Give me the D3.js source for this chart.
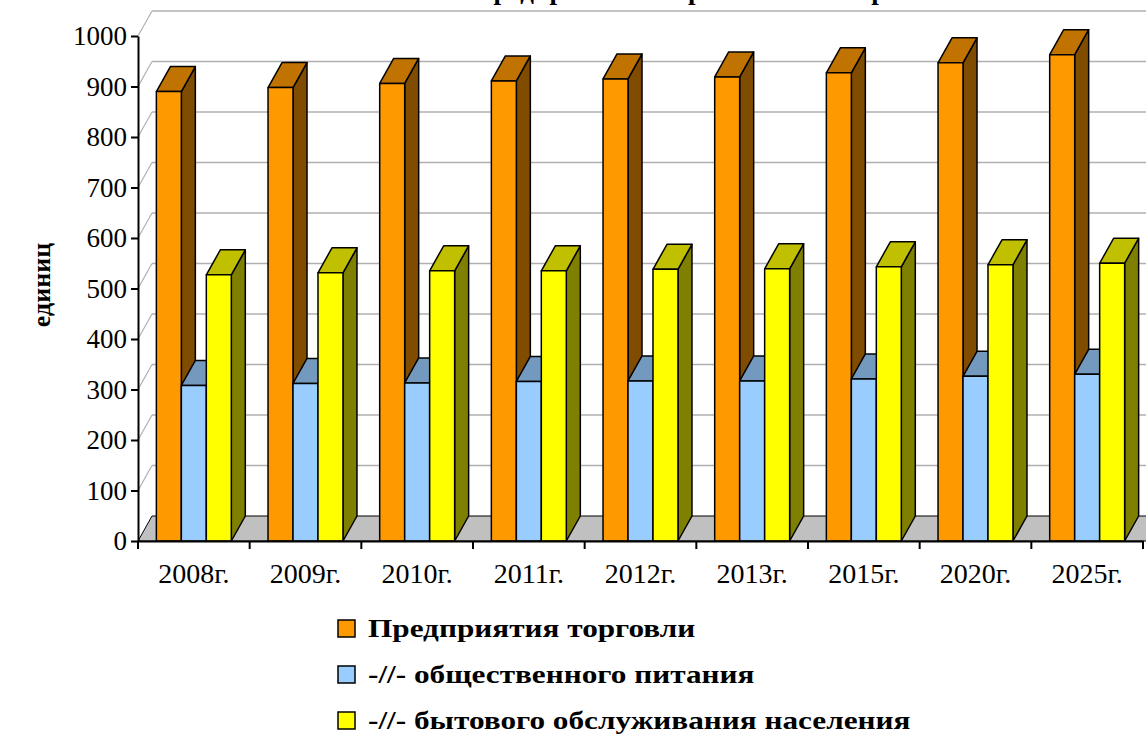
<!DOCTYPE html>
<html>
<head>
<meta charset="utf-8">
<script src="https://cdn.jsdelivr.net/npm/d3@7"></script>
<style>
  body { margin: 0; background: #fff; }
  svg { display: block; }
  svg text { font-family: "Liberation Serif", "Times New Roman", serif; }
</style>
</head>
<body>
<svg id="chart" width="1146" height="736"></svg>
<script>
// data
const years = ["2008г.", "2009г.", "2010г.", "2011г.", "2012г.", "2013г.", "2015г.", "2020г.", "2025г."];
const trade = [890, 898, 906, 911, 915, 919, 927, 947, 963];
const catering = [308, 312, 313, 316, 317, 317, 321, 326, 330];
const services = [527, 531, 535, 535, 538, 539, 543, 547, 550];
const seriesNames = ["Предприятия торговли", "-//- общественного питания", "-//- бытового обслуживания населения"];
const yTicks = [0, 100, 200, 300, 400, 500, 600, 700, 800, 900, 1000];

const colors = [
  { front: "#FF9900", top: "#C07300", side: "#804D00" },
  { front: "#99CCFF", top: "#7399BF", side: "#4D6680" },
  { front: "#FFFF00", top: "#C0C000", side: "#808000" }
];

const series = [trade, catering, services];

const svg = d3.select("#chart");

// plot frame (front plane), depth offset for the 3d look
const plotL = 138, plotR = 1143, plotT = 36, plotB = 541;
const dx = 14, dy = -25;

const x = d3.scaleBand().domain(years).range([plotL, plotR]);
const xs = d3.scaleBand().domain(d3.range(3)).range([0, x.bandwidth()])
  .paddingInner(0).paddingOuter(0.735);
const y = d3.scaleLinear().domain([0, 1000]).range([plotB, plotT]);

// back wall gridlines + left wall diagonals
const grid = svg.append("g");
grid.selectAll("line.h").data(yTicks.slice(1)).enter().append("line")
  .attr("class", "h")
  .attr("x1", plotL + dx).attr("x2", plotR + dx + 20)
  .attr("y1", d => y(d) + dy).attr("y2", d => y(d) + dy)
  .attr("stroke", "#b0b0b0").attr("stroke-width", 1.5);
grid.selectAll("line.d").data(yTicks.slice(1)).enter().append("line")
  .attr("class", "d")
  .attr("x1", plotL).attr("x2", plotL + dx)
  .attr("y1", d => y(d)).attr("y2", d => y(d) + dy)
  .attr("stroke", "#b0b0b0").attr("stroke-width", 1.2);

// floor
svg.append("path")
  .attr("d", `M${plotL},${plotB}L${plotL + dx},${plotB + dy}L${plotR + dx + 20},${plotB + dy}L${plotR + 20},${plotB}Z`)
  .attr("fill", "#C0C0C0").attr("stroke", "#000").attr("stroke-width", 1);

// bars, left to right so the painter order is right
const bars = svg.append("g").attr("stroke", "#000").attr("stroke-width", 1.5).attr("stroke-linejoin", "round");
years.forEach((yr, i) => {
  series.forEach((vals, s) => {
    const x0 = x(yr) + xs(s), x1 = x0 + xs.bandwidth();
    const y0 = y(0), y1 = y(vals[i]);
    const g = bars.append("g");
    g.append("path")
      .attr("d", `M${x1},${y0}L${x1 + dx},${y0 + dy}L${x1 + dx},${y1 + dy}L${x1},${y1}Z`)
      .attr("fill", colors[s].side);
    g.append("path")
      .attr("d", `M${x0},${y1}L${x0 + dx},${y1 + dy}L${x1 + dx},${y1 + dy}L${x1},${y1}Z`)
      .attr("fill", colors[s].top);
    g.append("rect")
      .attr("x", x0).attr("y", y1).attr("width", x1 - x0).attr("height", y0 - y1)
      .attr("fill", colors[s].front);
  });
});

// y axis
const yAxis = svg.append("g")
  .attr("transform", `translate(${plotL},0)`)
  .call(d3.axisLeft(y).tickValues(yTicks).tickFormat(d3.format("d"))
    .tickSize(7).tickSizeOuter(0).tickPadding(4));
yAxis.attr("font-family", null);
yAxis.select(".domain").attr("stroke-width", 2);
yAxis.selectAll(".tick line").attr("stroke-width", 2);
yAxis.selectAll("text").attr("font-size", 27).attr("fill", "#000");

// x axis: labels centred, ticks on category boundaries
const xAxis = svg.append("g")
  .attr("transform", `translate(0,${plotB})`)
  .call(d3.axisBottom(x).tickSize(0).tickPadding(22).tickSizeOuter(0));
xAxis.attr("font-family", null);
xAxis.select(".domain").attr("stroke-width", 2);
xAxis.selectAll("text").attr("font-size", 28).attr("fill", "#000");
xAxis.selectAll("line.b").data(years.map(d => x(d)).concat([plotR])).enter().append("line")
  .attr("class", "b").attr("x1", d => d).attr("x2", d => d).attr("y1", 0).attr("y2", 8)
  .attr("stroke", "#000").attr("stroke-width", 2);

// axis title
svg.append("text")
  .attr("transform", "translate(50,285) rotate(-90)")
  .attr("text-anchor", "middle")
  .attr("font-size", 26).attr("font-weight", "bold")
  .text("единиц");

// chart title, cut off at the top edge like the original
svg.append("text")
  .attr("x", 640).attr("y", -1)
  .attr("text-anchor", "middle")
  .attr("font-size", 27).attr("font-weight", "bold")
  .text("Количество предприятий потребительского рынка");

// legend (text a bit wider than the font, as in the original)
const legend = svg.append("g").attr("transform", "translate(338,620)");
seriesNames.forEach((name, s) => {
  const row = legend.append("g").attr("transform", `translate(0,${s * 46})`);
  row.append("rect").attr("width", 17).attr("height", 17)
    .attr("fill", colors[s].front).attr("stroke", "#000").attr("stroke-width", 1.5);
  row.append("text").attr("transform", "translate(30,17) scale(1.25,1)")
    .attr("font-size", 25).attr("font-weight", "bold")
    .text(name);
});
</script>
</body>
</html>
